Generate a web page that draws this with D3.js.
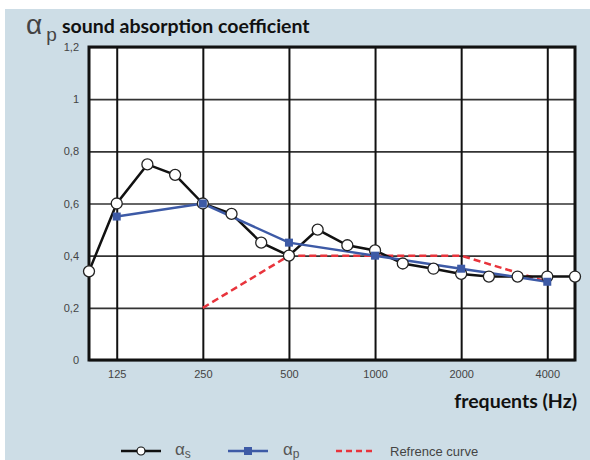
<!DOCTYPE html>
<html><head><meta charset="utf-8">
<script src="https://cdn.jsdelivr.net/npm/d3@7"></script>
<style>html,body{margin:0;padding:0;background:#fff;}svg{display:block;}</style>
</head><body>
<svg id="chart" width="590" height="460"></svg>
<script>
const freqS = [100,125,160,200,250,315,400,500,630,800,1000,1250,1600,2000,2500,3150,4000,5000];
const alphaS = [0.34,0.60,0.75,0.71,0.60,0.56,0.45,0.40,0.50,0.44,0.42,0.37,0.35,0.33,0.32,0.32,0.32,0.32];
const freqP = [125,250,500,1000,2000,4000];
const alphaP = [0.55,0.60,0.45,0.40,0.35,0.30];
const freqRef = [250,500,1000,2000,4000];
const alphaRef = [0.20,0.40,0.40,0.40,0.30];
const xTicks = [125,250,500,1000,2000,4000];
const yTicks = [0,0.2,0.4,0.6,0.8,1,1.2];
const yTickLabels = ["0","0,2","0,4","0,6","0,8","1","1,2"];

const svg = d3.select("#chart");
svg.append("rect").attr("x",5).attr("y",9).attr("width",585).attr("height",451).attr("fill","#cddde6");

const L=89,R=575,T=47,B=360;
const x = d3.scaleLog().domain([100,5000]).range([L,R]);
const y = d3.scaleLinear().domain([0,1.2]).range([B,T]);

svg.append("rect").attr("x",L).attr("y",T).attr("width",R-L).attr("height",B-T).attr("fill","#fff");

// horizontal grid
const yAxis = d3.axisLeft(y).tickValues(yTicks).tickSize(-(R-L)).tickFormat((d,i)=>yTickLabels[i]);
const gy = svg.append("g").attr("transform",`translate(${L},0)`).call(yAxis);
gy.select(".domain").remove();
gy.selectAll(".tick line").attr("stroke","#333").attr("stroke-width",1.6);
gy.selectAll(".tick text").attr("x",-10).attr("fill","#444").style("font-family","Liberation Sans, Arial, sans-serif").style("font-size","11px");

// vertical grid
const xAxis = d3.axisBottom(x).tickValues(xTicks).tickSize(-(B-T)).tickFormat(d3.format("d"));
const gx = svg.append("g").attr("transform",`translate(0,${B})`).call(xAxis);
gx.select(".domain").remove();
gx.selectAll(".tick line").attr("stroke","#111").attr("stroke-width",2);
gx.selectAll(".tick text").attr("y",10).attr("fill","#444").style("font-family","Liberation Sans, Arial, sans-serif").style("font-size","11px");

// frame
svg.append("rect").attr("x",L).attr("y",T).attr("width",R-L).attr("height",B-T).attr("fill","none").attr("stroke","#111").attr("stroke-width",3);

const line = d3.line().x(d=>x(d[0])).y(d=>y(d[1]));

// reference curve
svg.append("path").datum(freqRef.map((f,i)=>[f,alphaRef[i]])).attr("d",line)
  .attr("fill","none").attr("stroke","#e8343c").attr("stroke-width",2.5).attr("stroke-dasharray","7,4");

// alpha s
const sData = freqS.map((f,i)=>[f,alphaS[i]]);
svg.append("path").datum(sData).attr("d",line).attr("fill","none").attr("stroke","#111").attr("stroke-width",2.5);

// alpha p
const pData = freqP.map((f,i)=>[f,alphaP[i]]);
svg.append("path").datum(pData).attr("d",line).attr("fill","none").attr("stroke","#3d5aa6").attr("stroke-width",2.5);

svg.selectAll(".cs").data(sData).enter().append("circle")
  .attr("cx",d=>x(d[0])).attr("cy",d=>y(d[1])).attr("r",5.5)
  .attr("fill","#fff").attr("stroke","#222").attr("stroke-width",1.3);

svg.selectAll(".sp").data(pData).enter().append("rect")
  .attr("x",d=>x(d[0])-4).attr("y",d=>y(d[1])-4).attr("width",8).attr("height",8)
  .attr("fill","#3d5aa6");

// titles
const alphaFont = "Liberation Sans, Arial, sans-serif";
const t = svg.append("text").attr("x",26).attr("y",34).attr("fill","#444").style("font-family",alphaFont);
t.append("tspan").text("α").style("font-size","28px");
t.append("tspan").text("p").attr("dy",7).attr("dx",4).style("font-size","19px");

svg.append("text").attr("x",62).attr("y",33).text("sound absorption coefficient")
  .attr("fill","#111").style("font-family","Lato, sans-serif").style("font-weight","bold").style("font-size","19.5px");

svg.append("text").attr("x",577).attr("y",408).attr("text-anchor","end").text("frequents (Hz)")
  .attr("fill","#111").style("font-family","Lato, sans-serif").style("font-weight","bold").style("font-size","19.5px");

// legend
const ly = 451;
const lg = svg.append("g");
lg.append("line").attr("x1",121).attr("x2",161).attr("y1",ly).attr("y2",ly).attr("stroke","#111").attr("stroke-width",2.5);
lg.append("circle").attr("cx",141).attr("cy",ly).attr("r",4).attr("fill","#fff").attr("stroke","#111").attr("stroke-width",1.2);
const l1 = lg.append("text").attr("x",175).attr("y",ly+4).attr("fill","#555").style("font-family",alphaFont);
l1.append("tspan").text("α").style("font-size","17px");
l1.append("tspan").text("s").attr("dy",3).style("font-size","12px");

lg.append("line").attr("x1",228).attr("x2",268).attr("y1",ly).attr("y2",ly).attr("stroke","#3d5aa6").attr("stroke-width",2.5);
lg.append("rect").attr("x",244).attr("y",ly-4).attr("width",8).attr("height",8).attr("fill","#3d5aa6");
const l2 = lg.append("text").attr("x",283).attr("y",ly+4).attr("fill","#555").style("font-family",alphaFont);
l2.append("tspan").text("α").style("font-size","17px");
l2.append("tspan").text("p").attr("dy",3).style("font-size","12px");

lg.append("line").attr("x1",336).attr("x2",376).attr("y1",ly).attr("y2",ly).attr("stroke","#e8343c").attr("stroke-width",2.5).attr("stroke-dasharray","6,4");
lg.append("text").attr("x",390).attr("y",ly+5).text("Refrence curve").attr("fill","#444")
  .style("font-family",alphaFont).style("font-size","13px");
</script>
</body></html>
